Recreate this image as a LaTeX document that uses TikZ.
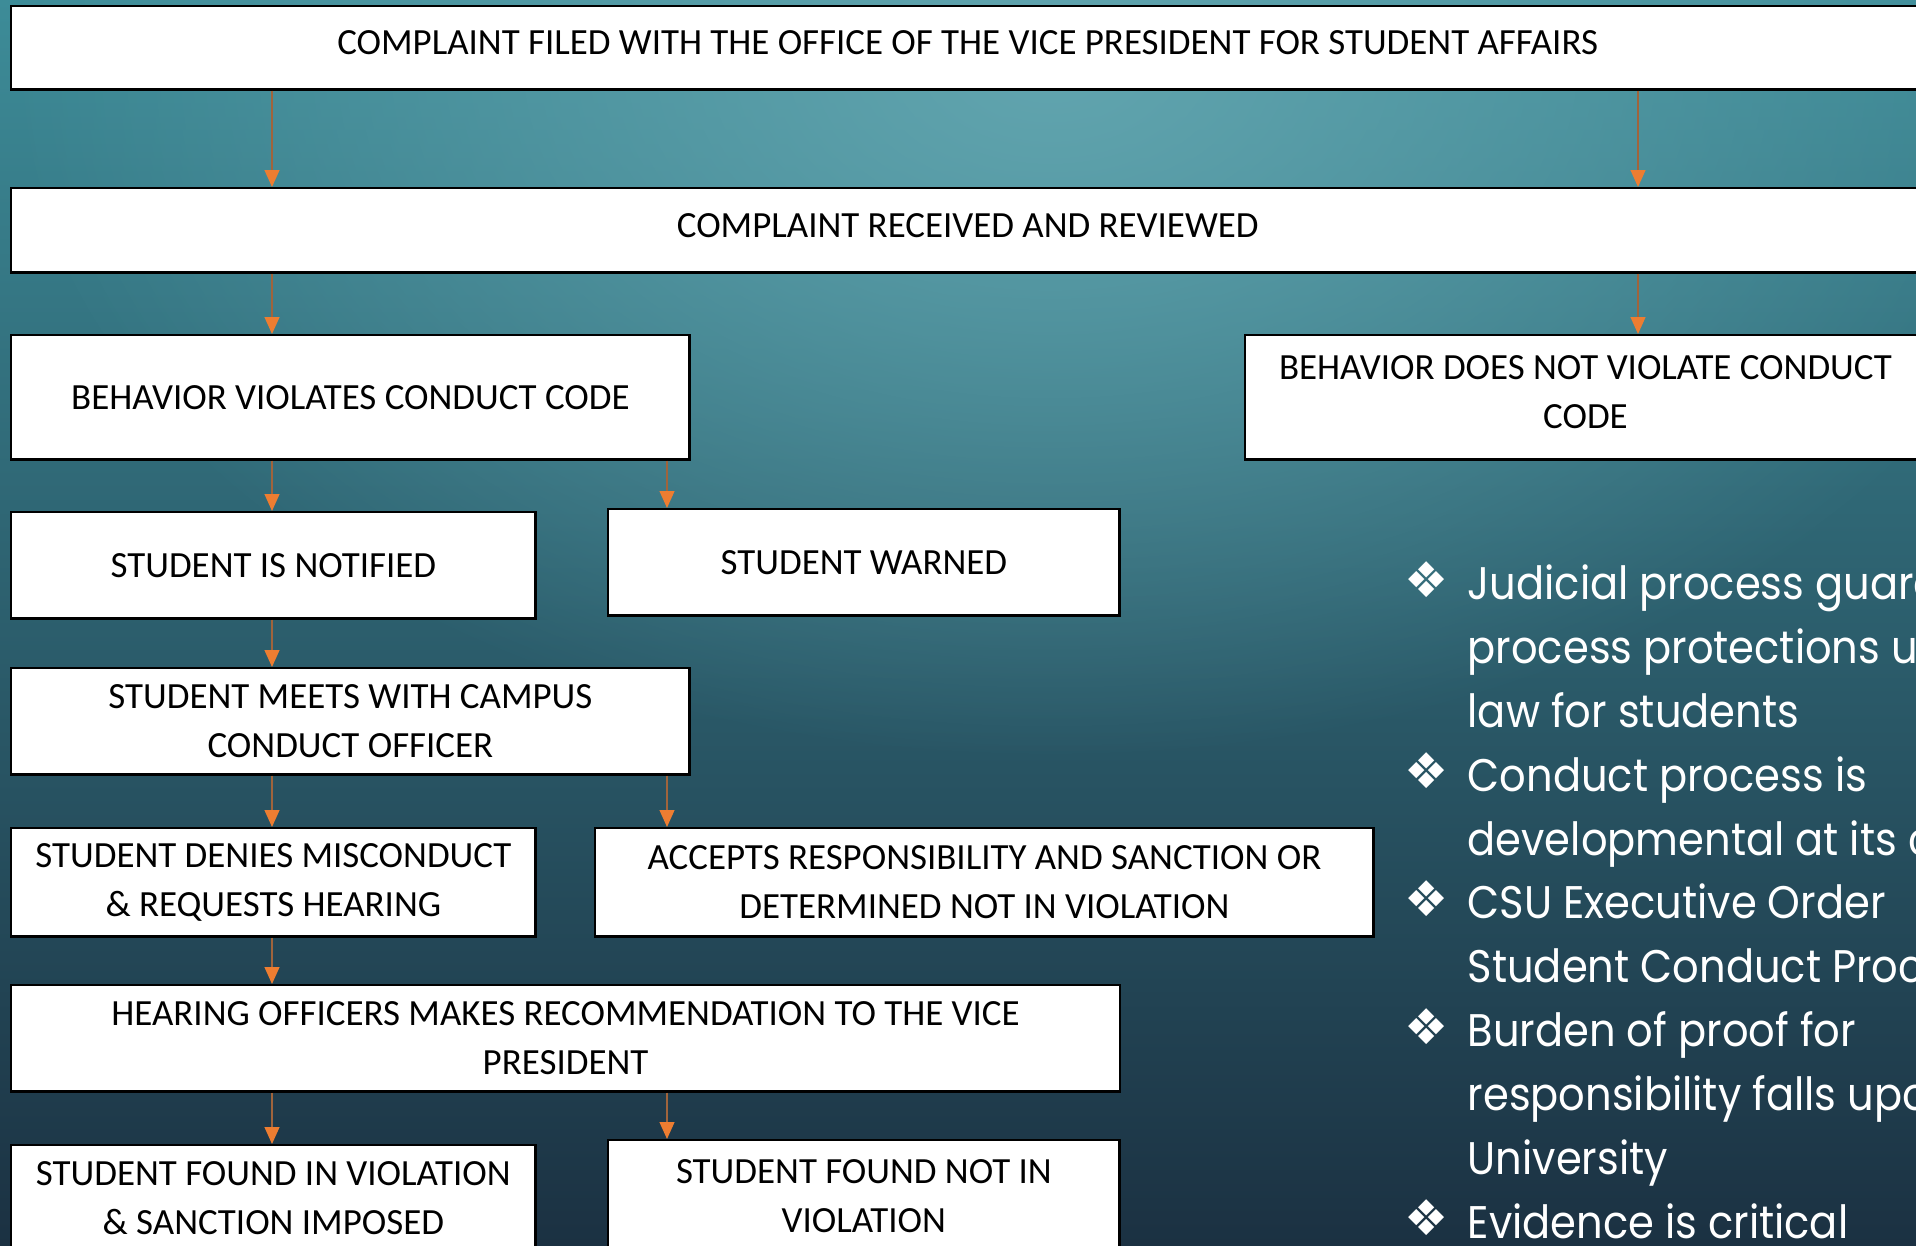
\documentclass[tikz,border=0pt]{standalone}
\usepackage{fontspec}
\setmainfont{Carlito}
\newfontfamily\gothic[FakeStretch=0.91]{Poppins}
\newfontfamily\symb{DejaVu Sans}
\usetikzlibrary{arrows.meta,fadings}

\definecolor{bgtop}{HTML}{3D8C98}
\definecolor{bgmid}{HTML}{2D6E7D}
\definecolor{bgbot}{HTML}{1B3142}
\definecolor{bgglow}{HTML}{62A5AF}
\definecolor{flowline}{HTML}{A0643C}
\definecolor{flowtip}{HTML}{ED7D31}

\tikzfading[name=glowfade, inner color=transparent!0, outer color=transparent!100]

\tikzset{
  box/.style={draw=black, line width=0.7pt, fill=white, inner sep=0pt,
    anchor=north west, align=center,
    font=\fontsize{10.5}{13.9}\selectfont},
  boxhigh/.style={box, text depth=2.8pt},
  flow/.style={draw=flowline, line width=0.45pt,
    -{Triangle[length=4.8pt,width=4.2pt,color=flowtip]}},
  bul/.style={text=white, inner sep=0pt, font=\symb\fontsize{14}{14}\selectfont},
  item/.style={text=white, inner sep=0pt, anchor=base west, align=left,
    font=\gothic\fontsize{13}{18.15}\selectfont}
}

\begin{document}
\begin{tikzpicture}[x=0.01cm,y=-0.01cm]
	\useasboundingbox (0,0) rectangle (1916,1245);
	\clip (0,0) rectangle (1916,1245);
	% sfondo
	\shade[top color=bgtop, middle color=bgmid, bottom color=bgbot] (0,0) rectangle (1916,1245);
	\fill[bgglow, path fading=glowfade] (1050,60) ellipse (1050 and 700);

	% colonne delle frecce
	\coordinate (colA) at (272,0);
	\coordinate (colB) at (667,0);
	\coordinate (colC) at (1638,0);

	\node[boxhigh, minimum width=19.12cm, minimum height=0.83cm] (filed) at (10,5)
		{COMPLAINT FILED WITH THE OFFICE OF THE VICE PRESIDENT FOR STUDENT AFFAIRS};
	\node[boxhigh, minimum width=19.12cm, minimum height=0.84cm] (recv) at (10,187)
		{COMPLAINT RECEIVED AND REVIEWED};
	\node[box, minimum width=6.78cm, minimum height=1.24cm] (viol) at (10,334)
		{BEHAVIOR VIOLATES CONDUCT CODE};
	\node[boxhigh, minimum width=6.80cm, minimum height=1.24cm] (noviol) at (1244,334)
		{BEHAVIOR DOES NOT VIOLATE CONDUCT\\CODE};
	\node[box, minimum width=5.24cm, minimum height=1.06cm] (notif) at (10,511)
		{STUDENT IS NOTIFIED};
	\node[box, minimum width=5.11cm, minimum height=1.06cm] (warn) at (607,508)
		{STUDENT WARNED};
	\node[box, minimum width=6.78cm, minimum height=1.06cm] (meet) at (10,667)
		{STUDENT MEETS WITH CAMPUS\\CONDUCT OFFICER};
	\node[box, minimum width=5.24cm, minimum height=1.08cm] (deny) at (10,827)
		{STUDENT DENIES MISCONDUCT\\\& REQUESTS HEARING};
	\node[box, minimum width=7.78cm, minimum height=1.08cm] (accept) at (594,827)
		{ACCEPTS RESPONSIBILITY AND SANCTION OR\\DETERMINED NOT IN VIOLATION};
	\node[box, minimum width=11.08cm, minimum height=1.06cm] (hear) at (10,984)
		{HEARING OFFICERS MAKES RECOMMENDATION TO THE VICE\\PRESIDENT};
	\node[box, minimum width=5.24cm, minimum height=1.06cm] (found) at (10,1144)
		{STUDENT FOUND IN VIOLATION\\\& SANCTION IMPOSED};
	\node[box, minimum width=5.11cm, minimum height=1.12cm] (notfound) at (607,1139)
		{STUDENT FOUND NOT IN\\VIOLATION};

	% frecce
	\draw[flow] (filed.south -| colA) -- (recv.north -| colA);
	\draw[flow] (filed.south -| colC) -- (recv.north -| colC);
	\draw[flow] (recv.south -| colA) -- (viol.north -| colA);
	\draw[flow] (recv.south -| colC) -- (noviol.north -| colC);
	\draw[flow] (viol.south -| colA) -- (notif.north -| colA);
	\draw[flow] (viol.south -| colB) -- (warn.north -| colB);
	\draw[flow] (notif.south -| colA) -- (meet.north -| colA);
	\draw[flow] (meet.south -| colA) -- (deny.north -| colA);
	\draw[flow] (meet.south -| colB) -- (accept.north -| colB);
	\draw[flow] (deny.south -| colA) -- (hear.north -| colA);
	\draw[flow] (hear.south -| colA) -- (found.north -| colA);
	\draw[flow] (hear.south -| colB) -- (notfound.north -| colB);

	% elenco a destra (base = ultima riga)
	\node[bul] (b1) at (1427,580) {❖};
	\node[bul] (b2) at (1427,771) {❖};
	\node[bul] (b3) at (1427,899) {❖};
	\node[bul] (b4) at (1427,1027) {❖};
	\node[bul] (b5) at (1427,1218) {❖};
	\node[item] (t1) at (1467,727.6) {Judicial process guarantees\\process protections under\\law for students};
	\node[item] (t2) at (1467,855.2) {Conduct process is\\developmental at its core};
	\node[item] (t3) at (1467,982.8) {CSU Executive Order\\Student Conduct Procedures};
	\node[item] (t4) at (1467,1174.2) {Burden of proof for\\responsibility falls upon\\University};
	\node[item] (t5) at (1467,1238) {Evidence is critical};
\end{tikzpicture}
\end{document}
